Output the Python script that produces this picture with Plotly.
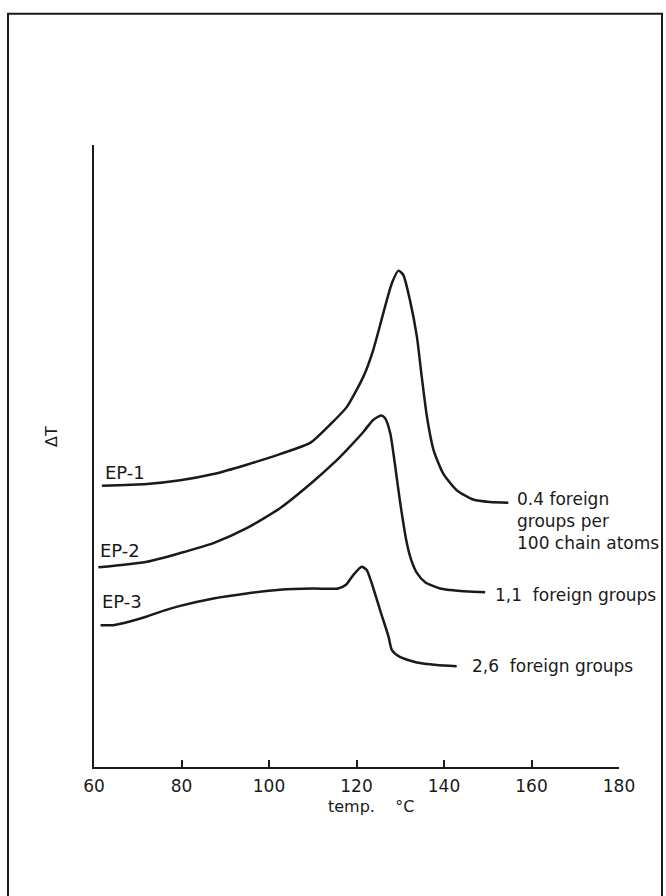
import plotly.graph_objects as go

# DTA melting curves of ethylene copolymers (ΔT in arbitrary units)
ep1_temp = [61.8, 72.1, 79.7, 87.3, 94.9, 102.5, 109.4, 113.9, 117.8, 121.6, 123.8,
            126.1, 128.1, 129.6, 130.7, 132.2, 133.8, 134.9, 136.1, 137.6, 139.8,
            142.9, 146.7, 150.5, 154.7]
ep1_dt = [45.2, 45.5, 46.1, 47.1, 48.6, 50.3, 52.1, 55.0, 57.9, 62.8, 67.0,
          72.9, 77.8, 79.8, 79.1, 75.1, 69.2, 62.8, 56.3, 51.0, 47.2,
          44.5, 43.0, 42.6, 42.5]

ep2_temp = [61.0, 72.1, 79.7, 87.3, 94.9, 102.5, 110.1, 114.7, 117.8, 121.6, 123.8,
            125.6, 126.5, 127.7, 128.8, 129.9, 131.5, 132.5, 133.8, 135.7, 139.1,
            143.7, 149.4]
ep2_dt = [32.1, 33.0, 34.4, 36.0, 38.4, 41.6, 45.9, 48.8, 51.0, 53.9, 55.8,
          56.5, 56.1, 53.7, 48.6, 42.9, 36.0, 33.3, 31.2, 29.7, 28.7,
          28.3, 28.1]

ep3_temp = [61.5, 64.4, 68.2, 72.1, 75.8, 79.7, 87.3, 94.9, 102.5, 110.1, 115.8,
            117.6, 119.3, 121.2, 122.3, 123.5, 125.4, 127.3, 128.1, 129.9, 133.8,
            138.3, 142.9]
ep3_dt = [22.8, 22.8, 23.4, 24.2, 25.1, 25.9, 27.1, 27.9, 28.5, 28.7, 28.7,
          29.3, 30.9, 32.2, 31.7, 29.5, 25.2, 21.0, 18.8, 17.7, 16.8,
          16.4, 16.2]

sample_names = ["EP-1", "EP-2", "EP-3"]
content_labels = ["0.4 foreign<br>groups per<br>100 chain atoms",
                  "1,1\u00a0\u00a0foreign groups",
                  "2,6\u00a0\u00a0foreign groups"]
x_ticks = [60, 80, 100, 120, 140, 160, 180]
x_title = "temp.\u00a0\u00a0\u00a0\u00a0°C"
y_title = "ΔT"

FONT = "DejaVu Sans"
INK = "#1a1a1a"

series = [(ep1_temp, ep1_dt), (ep2_temp, ep2_dt), (ep3_temp, ep3_dt)]

fig = go.Figure()
for (t, d), name in zip(series, sample_names):
    fig.add_trace(go.Scatter(
        x=t, y=d, mode="lines", name=name,
        line=dict(color=INK, width=2.5, shape="spline", smoothing=0.6),
        hoverinfo="skip", showlegend=False,
    ))

annotations = []
# sample names above the start of each curve
name_shift = [(1, 13), (0, 17), (-1, 24)]
for (t, d), name, (dx, dy) in zip(series, sample_names, name_shift):
    annotations.append(dict(
        x=t[0], y=d[0], text=name, showarrow=False,
        xanchor="left", yanchor="middle", xshift=dx, yshift=dy,
        font=dict(family=FONT, size=18, color=INK),
    ))

# content labels at the end of each curve
end_shift = [(8, -18, "middle"), (9, -3, "middle"), (14, 0, "middle")]
for (t, d), lab, (dx, dy, ya) in zip(series, content_labels, end_shift):
    annotations.append(dict(
        x=t[-1], y=d[-1], text=lab, showarrow=False, align="left",
        xanchor="left", yanchor=ya, xshift=dx, yshift=dy,
        bgcolor="white", borderpad=0,
        font=dict(family=FONT, size=17, color=INK),
    ))

annotations.append(dict(
    x=0.5276, y=-0.063, xref="paper", yref="paper", text=x_title,
    showarrow=False, xanchor="center", yanchor="middle",
    font=dict(family=FONT, size=16, color=INK),
))
annotations.append(dict(
    x=-0.082, y=0.532, xref="paper", yref="paper", text=y_title,
    showarrow=False, textangle=-90, xanchor="center", yanchor="middle",
    font=dict(family=FONT, size=16, color=INK),
))

fig.update_layout(
    width=666, height=896,
    margin=dict(l=94, r=47, t=145, b=129, pad=0),
    paper_bgcolor="white", plot_bgcolor="white",
    annotations=annotations,
    shapes=[dict(
        type="path", xref="paper", yref="paper",
        path="M -0.1638,-0.35 L -0.1638,1.211 L 1.0819,1.211 L 1.0819,-0.35",
        line=dict(color=INK, width=2), layer="below",
    )],
    xaxis=dict(
        range=[60, 180], tickvals=x_ticks, ticktext=[str(v) for v in x_ticks],
        ticks="inside", ticklen=7, tickwidth=1.5, tickcolor=INK,
        showline=True, linecolor=INK, linewidth=2,
        showgrid=False, zeroline=False, fixedrange=True,
        tickfont=dict(family=FONT, size=17, color=INK),
        ticklabelstandoff=3,
    ),
    yaxis=dict(
        range=[0, 100], showticklabels=False, ticks="",
        showline=True, linecolor=INK, linewidth=2,
        showgrid=False, zeroline=False, fixedrange=True,
    ),
)

fig.write_html("out.html")
